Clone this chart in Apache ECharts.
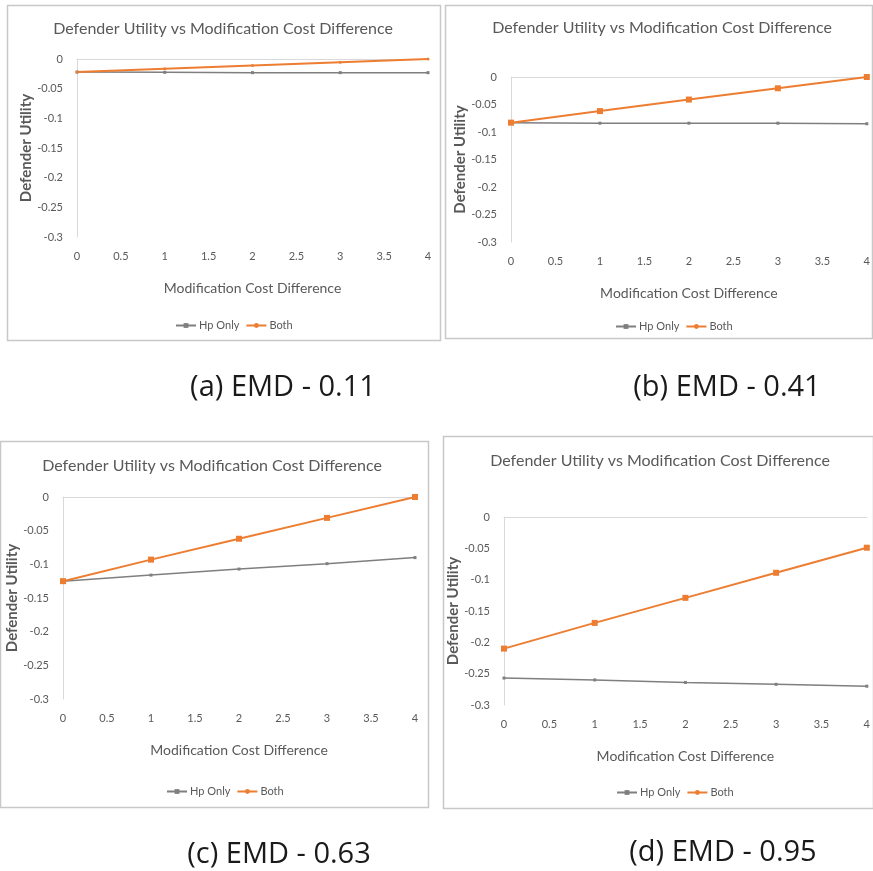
<!DOCTYPE html>
<html>
<head>
<meta charset="utf-8">
<script src="https://cdn.jsdelivr.net/npm/echarts@6/dist/echarts.min.js"></script>
<style>
  html, body { margin: 0; padding: 0; background: #fff; }
  #main { width: 873px; height: 871px; }
</style>
</head>
<body>
<div id="main"></div>
<script>
// data
const costDiff = [0, 1, 2, 3, 4]
const hpOnlyA = [-0.022, -0.0225, -0.023, -0.023, -0.023]
const bothA = [-0.022, -0.0165, -0.011, -0.0055, 0]
const hpOnlyB = [-0.083, -0.084, -0.084, -0.084, -0.085]
const bothB = [-0.083, -0.062, -0.041, -0.0205, 0]
const hpOnlyC = [-0.125, -0.116, -0.107, -0.099, -0.090]
const bothC = [-0.125, -0.093, -0.062, -0.031, 0]
const hpOnlyD = [-0.257, -0.260, -0.264, -0.267, -0.270]
const bothD = [-0.21, -0.169, -0.129, -0.089, -0.049]
const captions = ['(a) EMD - 0.11', '(b) EMD - 0.41', '(c) EMD - 0.63', '(d) EMD - 0.95']
const chartTitle = 'Defender Utility vs Modification Cost Difference'

const font = 'Lato, "Open Sans", sans-serif'
const textGrey = '#595959'
const axisGrey = '#d9d9d9'

// layout of each panel (px)
const panels = [
  { hp: hpOnlyA, both: bothA, box: [7, 5, 433, 335], grid: [77, 59, 351, 178], title: [223, 29], legend: [170, 315], yNameGap: 40, bigMarker: false, cap: [283, 388] },
  { hp: hpOnlyB, both: bothB, box: [445, 5, 427, 333], grid: [511, 77, 356, 165], title: [662, 28], legend: [610, 316], yNameGap: 40, bigMarker: true, cap: [727, 388] },
  { hp: hpOnlyC, both: bothC, box: [0, 441, 428, 366], grid: [63, 497, 352, 202], title: [212, 466], legend: [161, 781], yNameGap: 40, bigMarker: true, cap: [279, 855] },
  { hp: hpOnlyD, both: bothD, box: [443, 436, 430, 372], grid: [504, 517, 363, 188], title: [660, 461], legend: [611, 782], yNameGap: 37, bigMarker: true, cap: [723, 853] }
]

const option = {
  animation: false,
  backgroundColor: '#fff',
  legend: [], grid: [], xAxis: [], yAxis: [], series: [], graphic: []
}

panels.forEach((p, i) => {
  const [gl, gt, gw, gh] = p.grid
  option.grid.push({ left: gl, top: gt, width: gw, height: gh })
  option.legend.push({
    data: ['Hp Only', 'Both'], left: p.legend[0], top: p.legend[1],
    itemWidth: 20, itemHeight: 6, itemGap: 6,
    textStyle: { fontFamily: font, fontSize: 11, color: textGrey, padding: [0, 0, 0, -2] }
  })
  // bottom axis: labels and name only
  option.xAxis.push({
    type: 'value', gridIndex: i, min: 0, max: 4, interval: 0.5, position: 'bottom',
    axisLine: { show: false }, axisTick: { show: false }, splitLine: { show: false },
    axisLabel: { fontFamily: font, fontSize: 11, color: textGrey, margin: 14 },
    name: 'Modification Cost Difference', nameLocation: 'middle', nameGap: 44,
    nameTextStyle: { fontFamily: font, fontSize: 14, color: textGrey }
  })
  // axis line at y = 0 (top)
  option.xAxis.push({
    type: 'value', gridIndex: i, min: 0, max: 4, position: 'top',
    axisLine: { show: true, lineStyle: { color: axisGrey, width: 1 } },
    axisTick: { show: false }, axisLabel: { show: false }, splitLine: { show: false }
  })
  option.yAxis.push({
    type: 'value', gridIndex: i, min: -0.3, max: 0, interval: 0.05,
    axisLine: { show: true, lineStyle: { color: axisGrey, width: 1 } },
    axisTick: { show: false }, splitLine: { show: false },
    axisLabel: { fontFamily: font, fontSize: 11, color: textGrey, margin: 14 },
    name: 'Defender Utility', nameLocation: 'middle', nameGap: p.yNameGap, nameRotate: 90,
    nameTextStyle: { fontFamily: font, fontSize: 15, fontWeight: 'bold', color: textGrey }
  })
  option.series.push({
    name: 'Hp Only', type: 'line', xAxisIndex: i * 2, yAxisIndex: i,
    data: costDiff.map((x, k) => [x, p.hp[k]]),
    symbol: 'rect', symbolSize: 3, showAllSymbol: true,
    lineStyle: { color: '#7f7f7f', width: 1.5 }, itemStyle: { color: '#7f7f7f' }
  })
  option.series.push({
    name: 'Both', type: 'line', xAxisIndex: i * 2, yAxisIndex: i,
    data: costDiff.map((x, k) => [x, p.both[k]]),
    symbol: p.bigMarker ? 'rect' : 'circle', symbolSize: p.bigMarker ? 6 : 3, showAllSymbol: true,
    lineStyle: { color: '#ed7d31', width: 2 }, itemStyle: { color: '#ed7d31' }
  })
  const [bx, by, bw, bh] = p.box
  option.graphic.push({
    type: 'rect', shape: { x: bx + 0.5, y: by + 0.5, width: bw, height: bh },
    style: { fill: 'none', stroke: '#c8c8c8', lineWidth: 1.5 }, z: -1
  })
  option.graphic.push({
    type: 'text', x: p.title[0], y: p.title[1],
    style: { text: chartTitle, fontFamily: font, fontSize: 16, fill: textGrey, align: 'center', verticalAlign: 'middle' }
  })
  option.graphic.push({
    type: 'text', x: p.cap[0], y: p.cap[1],
    style: { text: captions[i], fontFamily: '"Open Sans", sans-serif', fontSize: 29, fill: '#1a1a1a', align: 'center', verticalAlign: 'middle' }
  })
})

const myChart = echarts.init(document.getElementById('main'))
myChart.setOption(option)
</script>
</body>
</html>
